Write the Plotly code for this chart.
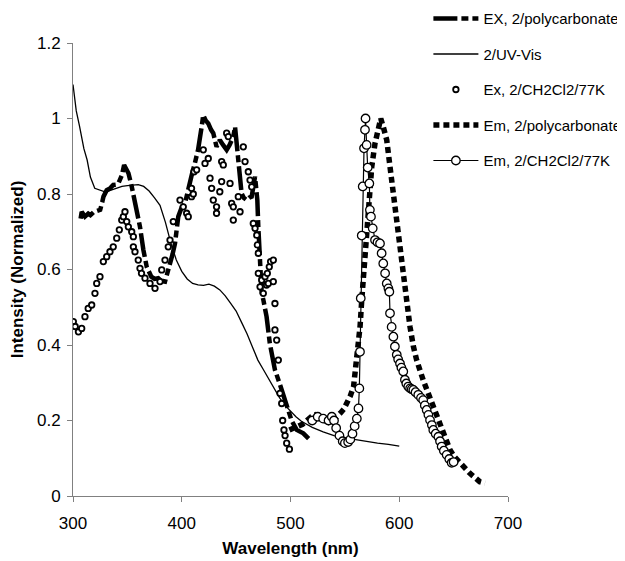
import plotly.graph_objects as go

# ---- data ----
ex_poly_wl = [307, 308, 311, 314, 316, 319, 322, 325, 327, 328, 331, 334, 337, 340, 342, 345, 347, 349, 351, 354,
              356, 358.6, 361.6, 364.7, 367.8, 372, 375, 378.4, 381, 384.6, 387, 389, 391.5, 393.8, 396.8, 400,
              403, 405, 407.6, 410, 412, 415, 418.3, 419.8, 422, 424.4, 427, 429, 432, 435, 438, 441.3, 444,
              447.4, 449, 452, 455, 457, 459.7, 462, 464.3, 467.4, 469.5, 470.4, 472, 473.5, 475, 478, 481,
              485.7, 490, 493, 496.5, 501, 505.7, 511.8, 518]
ex_poly_val = [0.735, 0.753, 0.74, 0.748, 0.744, 0.752, 0.755, 0.758, 0.78, 0.793, 0.81, 0.815, 0.824, 0.825, 0.83,
               0.85, 0.877, 0.865, 0.855, 0.82, 0.79, 0.766, 0.713, 0.652, 0.607, 0.581, 0.575, 0.577, 0.57,
               0.568, 0.59, 0.616, 0.64, 0.669, 0.74, 0.765, 0.775, 0.8, 0.837, 0.86, 0.881, 0.917, 0.978, 1.009,
               0.995, 0.987, 0.97, 0.961, 0.925, 0.943, 0.93, 0.917, 0.93, 0.952, 0.978, 0.881, 0.802, 0.79,
               0.784, 0.79, 0.793, 0.846, 0.784, 0.713, 0.625, 0.537, 0.52, 0.475, 0.404, 0.334, 0.298, 0.27,
               0.245, 0.2, 0.175, 0.166, 0.148]

uv_wl = [300, 303, 306, 310, 313, 316, 320, 325, 330, 335, 340, 345, 350, 355, 360, 365, 370, 375, 380, 385,
         390, 395, 400, 405, 410, 415, 420, 425, 430, 435, 440, 445, 450, 455, 460, 465, 470, 475, 480, 485,
         490, 495, 500, 505, 510, 520, 530, 540, 550, 560, 570, 580, 590, 600]
uv_val = [1.09, 1.02, 0.98, 0.92, 0.89, 0.845, 0.815, 0.81, 0.805, 0.81, 0.815, 0.82, 0.822, 0.824, 0.825,
          0.82, 0.808, 0.79, 0.77, 0.725, 0.67, 0.625, 0.595, 0.575, 0.563, 0.559, 0.558, 0.561, 0.556, 0.546,
          0.53, 0.51, 0.49, 0.46, 0.43, 0.395, 0.36, 0.335, 0.31, 0.285, 0.26, 0.24, 0.225, 0.21, 0.198,
          0.182, 0.17, 0.16, 0.154, 0.149, 0.145, 0.14, 0.137, 0.132]

ex_cc_wl = [300.3, 302, 305, 308, 311, 314, 317.2, 320.2, 321.8, 324.8, 327.9, 331, 334, 337, 340.2, 342.6,
            344.8, 346.3, 347.8, 349.4, 350.9, 354, 355.5, 355.5, 357, 360, 361.6, 363, 366.2, 370.8, 375.4,
            380, 381.6, 384.6, 387.6, 389.2, 392.2, 398.4, 401.4, 404.5, 406, 409, 409, 410.6, 411.3, 413.7,
            419.8, 421.4, 424.4, 426, 427.5, 429, 432, 432, 435, 436.7, 436.7, 438.2, 441.3, 442.8, 444.4,
            445.9, 447.4, 447.4, 452, 453.6, 456.6, 458.2, 461.2, 462.8, 464.3, 465.8, 467.4, 469, 469.5,
            470.4, 470.4, 472, 473.5, 475, 476.6, 478, 478.7, 479.6, 480.5, 481.7, 484.2, 484.2, 485.7,
            485.7, 487.3, 488.8, 490.3, 491.9, 492.8, 494, 495, 496.5, 499]
ex_cc_val = [0.462, 0.449, 0.435, 0.444, 0.475, 0.497, 0.506, 0.537, 0.563, 0.581, 0.621, 0.634, 0.647, 0.66,
             0.683, 0.705, 0.731, 0.74, 0.753, 0.727, 0.713, 0.7, 0.687, 0.66, 0.647, 0.625, 0.603, 0.59,
             0.577, 0.563, 0.55, 0.568, 0.599, 0.625, 0.66, 0.678, 0.727, 0.784, 0.766, 0.749, 0.74, 0.815,
             0.793, 0.8, 0.859, 0.864, 0.917, 0.881, 0.894, 0.842, 0.815, 0.784, 0.766, 0.749, 0.806, 0.833,
             0.886, 0.877, 0.961, 0.952, 0.828, 0.775, 0.766, 0.731, 0.793, 0.753, 0.925, 0.886, 0.859,
             0.837, 0.819, 0.722, 0.709, 0.691, 0.665, 0.643, 0.59, 0.554, 0.572, 0.537, 0.581, 0.559, 0.59,
             0.563, 0.607, 0.621, 0.625, 0.568, 0.51, 0.44, 0.413, 0.36, 0.272, 0.245, 0.2, 0.175, 0.16,
             0.14, 0.124]

em_poly_wl = [499, 503, 507, 511, 515, 519, 523, 527, 531, 535, 539, 543, 546, 549, 552, 555, 558, 560, 562,
              564, 565.5, 568.5, 571.5, 574.7, 577.7, 580.7, 583, 585.3, 588.5, 591.5, 594.5, 597.7, 600,
              603, 606.8, 609.9, 613, 616, 622, 628, 634.4, 640.5, 646.7, 651, 655.9, 660, 665, 670, 674,
              678.8]
em_poly_val = [0.175, 0.18, 0.185, 0.19, 0.2, 0.21, 0.215, 0.21, 0.2, 0.195, 0.2, 0.21, 0.22, 0.23, 0.245,
               0.265, 0.29, 0.34, 0.396, 0.45, 0.519, 0.652, 0.784, 0.872, 0.934, 0.978, 1.0, 0.978, 0.943,
               0.872, 0.802, 0.731, 0.66, 0.59, 0.519, 0.448, 0.396, 0.36, 0.307, 0.263, 0.219, 0.166, 0.122,
               0.103, 0.087, 0.073, 0.06, 0.048, 0.038, 0.034]

em_cc_wl = [520, 525, 530, 535, 538, 540, 542, 545, 548, 550, 553, 555, 557, 559, 561, 562.5, 563.3, 563.9,
            564.6, 565.5, 566.4, 567.6, 568.5, 569, 570, 571, 572.5, 573, 574, 575.6, 577.7, 580, 582.3,
            583.8, 585.3, 587, 588.5, 590, 590.9, 591.5, 593, 594.6, 596, 597.7, 599, 600.7, 602, 603.7,
            605.2, 606.5, 608.3, 610, 611.5, 613, 615, 617.5, 620, 622, 623.5, 625.2, 626.8, 628.3, 630,
            631.3, 633.5, 636, 637.5, 639, 641, 643.6, 646, 648.2, 650]
em_cc_val = [0.2, 0.21, 0.205, 0.2, 0.21, 0.2, 0.18, 0.16, 0.145, 0.14, 0.143, 0.15, 0.165, 0.185, 0.205,
             0.232, 0.285, 0.382, 0.524, 0.69, 0.82, 0.921, 0.97, 1.0, 0.93, 0.87, 0.828, 0.758, 0.74, 0.709,
             0.678, 0.672, 0.669, 0.643, 0.616, 0.59, 0.563, 0.55, 0.541, 0.484, 0.448, 0.422, 0.396, 0.374,
             0.362, 0.351, 0.34, 0.33, 0.308, 0.298, 0.29, 0.285, 0.283, 0.281, 0.275, 0.268, 0.26, 0.254,
             0.24, 0.228, 0.215, 0.201, 0.188, 0.175, 0.165, 0.157, 0.145, 0.131, 0.12, 0.109, 0.098, 0.088,
             0.09]

names = ["EX, 2/polycarbonate", "2/UV-Vis", "Ex, 2/CH2Cl2/77K", "Em, 2/polycarbonate", "Em, 2/CH2Cl2/77K"]

fig = go.Figure()
fig.add_trace(go.Scatter(x=ex_poly_wl, y=ex_poly_val, mode="lines", name=names[0], legendgroup="a",
                         line=dict(color="black", width=4.5, dash="24px,4px,7px,4px")))
fig.add_trace(go.Scatter(x=uv_wl, y=uv_val, mode="lines", name=names[1], legendgroup="b",
                         line=dict(color="black", width=1.3)))
fig.add_trace(go.Scatter(x=ex_cc_wl, y=ex_cc_val, mode="markers", name=names[2], legendgroup="c",
                         marker=dict(symbol="circle", size=5.5, color="white",
                                     line=dict(color="black", width=1.8))))
fig.add_trace(go.Scatter(x=em_poly_wl, y=em_poly_val, mode="lines", name=names[3], legendgroup="d",
                         line=dict(color="black", width=5.5, dash="6px,4px")))
fig.add_trace(go.Scatter(x=em_cc_wl, y=em_cc_val, mode="lines+markers", name=names[4], legendgroup="e",
                         line=dict(color="black", width=1.2),
                         marker=dict(symbol="circle", size=8.5, color="white",
                                     line=dict(color="black", width=1.3))))

font = "Liberation Sans, Arial, sans-serif"
fig.update_layout(
    width=625, height=561,
    margin=dict(l=65, r=125, t=35, b=73, autoexpand=False),
    paper_bgcolor="white", plot_bgcolor="white",
    font=dict(family=font, size=17, color="black"),
    showlegend=True,
    legend=dict(x=0.817, y=1.09, xanchor="left", yanchor="top", bgcolor="rgba(0,0,0,0)",
                font=dict(family=font, size=15, color="black"), tracegroupgap=13,
                traceorder="grouped", itemwidth=45),
    xaxis=dict(range=[300, 700], tickvals=[300, 400, 500, 600, 700], showgrid=False, zeroline=False,
               showline=True, linecolor="#808080", linewidth=1, ticks="outside", ticklen=5,
               tickcolor="#808080", tickfont=dict(size=17), automargin=False, ticklabelstandoff=7,
               title=dict(text="<b>Wavelength (nm)</b>", font=dict(size=17), standoff=9)),
    yaxis=dict(range=[0, 1.2], dtick=0.2, showgrid=False, zeroline=False,
               showline=True, linecolor="#808080", linewidth=1, ticks="outside", ticklen=5,
               tickcolor="#808080", tickfont=dict(size=17), automargin=False, ticklabelstandoff=3,
               title=dict(text="<b>Intensity (Normalized)</b>", font=dict(size=17), standoff=12)),
)

fig.write_html("out.html")
